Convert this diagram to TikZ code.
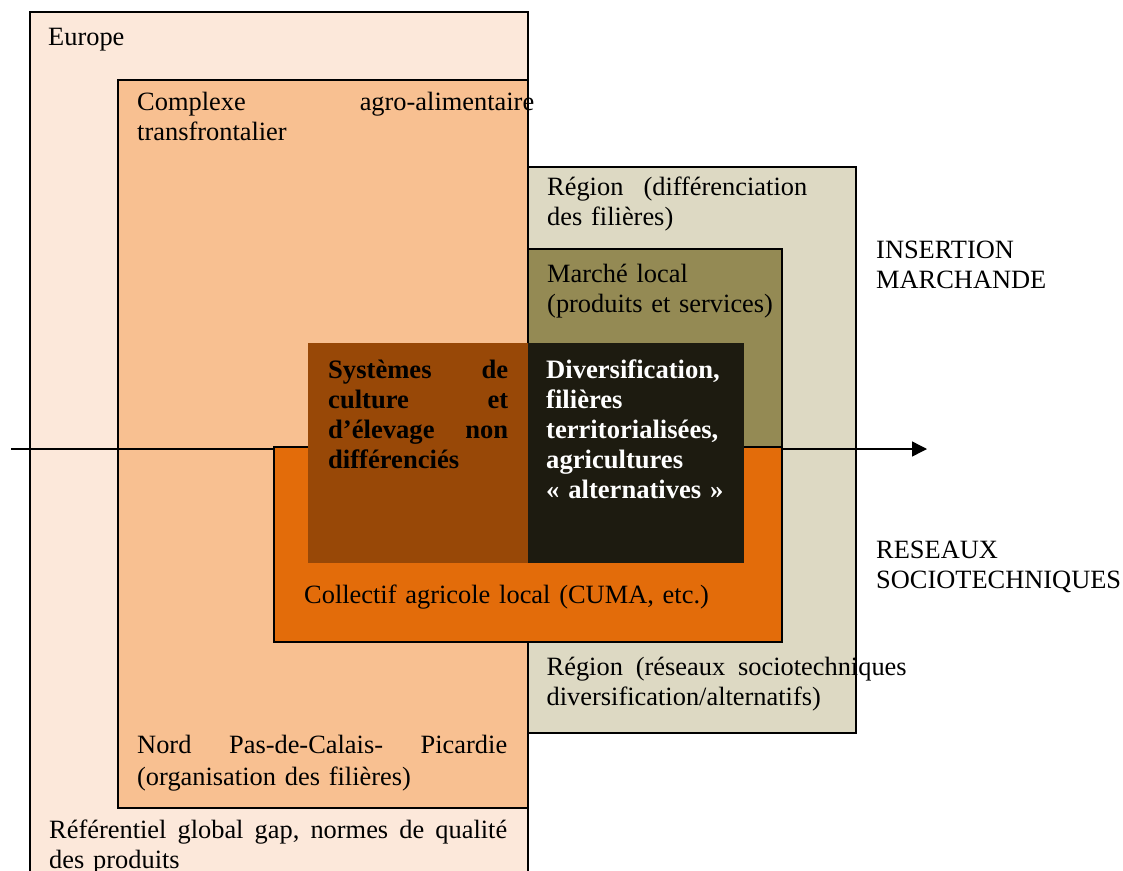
\documentclass[tikz,border=0pt]{standalone}
\usepackage{fontspec}
\setmainfont{Liberation Serif}
\usetikzlibrary{arrows.meta}
\definecolor{europe}{HTML}{FCE8DA}
\definecolor{complexe}{HTML}{F8C091}
\definecolor{region}{HTML}{DDD9C3}
\definecolor{marche}{HTML}{948A54}
\definecolor{collectif}{HTML}{E36C0A}
\definecolor{brownbox}{HTML}{984807}
\definecolor{darkbox}{HTML}{1D1B10}
\newcommand{\jline}[2]{\makebox[#1][l]{#2}}
\tikzset{
  zone/.style={draw=black, line width=1.4pt},
  lbl/.style={anchor=base west, inner sep=0pt, align=left, text width=#1,
    font=\fontsize{26.4}{30.6}\selectfont},
  lbl/.default=400pt,
  blbl/.style={lbl=#1, font=\fontsize{26.6}{30}\selectfont\bfseries},
  blbl/.default=220pt,
}
\begin{document}
\begin{tikzpicture}[x=1pt,y=-1pt]
\useasboundingbox (0,0) rectangle (1123,870);
\clip (0,0) rectangle (1123,870);
% boxes
\draw[zone, fill=europe] (30,12) rectangle (528,900);
\draw[zone, fill=complexe] (118,80) rectangle (528,808);
\draw[zone, fill=region] (528,167) rectangle (856,733);
\draw[zone, fill=marche] (528,249) rectangle (782,447);
% axis
\coordinate (axstart) at (11,449);
\coordinate (axend) at (927,449);
\draw[line width=1.4pt, -{Triangle[length=15pt,width=15pt]}] (axstart) -- (axend);
\draw[zone, fill=collectif] (274,447) rectangle (782,642);
\fill[brownbox] (308,343) rectangle (528,563);
\fill[darkbox] (528,343) rectangle (744,563);
% labels
\node[lbl] (europe) at (48,45) {Europe};
\node[lbl=420pt] (complexe) at (137,110) {\jline{397pt}{Complexe\hfill agro-alimentaire}\\transfrontalier};
\node[lbl=300pt] (regiondiff) at (547,195) {\jline{260pt}{Région\hfill (différenciation}\\des filières)};
\node[lbl=260pt] (marchelocal) at (547,282) {Marché local\\(produits et services)};
\node[blbl] (systemes) at (328,378) {\jline{180pt}{Systèmes\hfill de}\\\jline{180pt}{culture\hfill et}\\\jline{180pt}{d’élevage\hfill non}\\différenciés};
\node[blbl, text=white] (diversif) at (546,378) {Diversification,\\filières\\territorialisées,\\agricultures\\« alternatives »};
\node[lbl=450pt] (collectiflbl) at (304,603) {Collectif agricole local (CUMA, etc.)};
\node[lbl=400pt] (regionres) at (546.5,675) {\jline{360pt}{Région\hfill (réseaux\hfill sociotechniques}\\diversification/alternatifs)};
\node[lbl=400pt, font=\fontsize{26.4}{32}\selectfont] (nord) at (137,753) {\jline{370pt}{Nord\hfill Pas-de-Calais-\hfill Picardie}\\(organisation des filières)};
\node[lbl=470pt, font=\fontsize{26.4}{30}\selectfont] (referentiel) at (49,838) {\jline{458pt}{Référentiel\hfill global\hfill gap,\hfill normes\hfill de\hfill qualité}\\des produits};
\node[lbl=250pt] (insertion) at (876,258) {INSERTION\\MARCHANDE};
\node[lbl=250pt] (reseaux) at (876,558) {RESEAUX\\SOCIOTECHNIQUES};
\end{tikzpicture}
\end{document}
